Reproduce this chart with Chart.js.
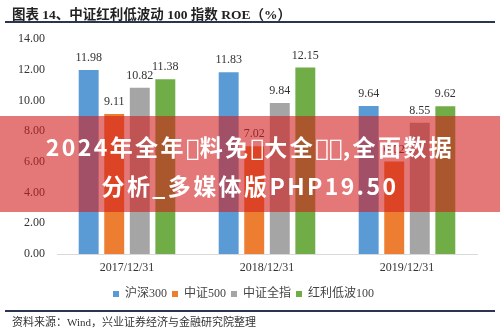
<!DOCTYPE html>
<html><head><meta charset="utf-8">
<script src="https://cdn.jsdelivr.net/npm/chart.js@4.4.1/dist/chart.umd.min.js"></script>
<style>
html,body{margin:0;padding:0;background:#fff;}
#wrap{position:relative;width:500px;height:330px;overflow:hidden;font-family:"Liberation Serif","Noto Sans CJK SC",serif;}
#c{position:absolute;left:0;top:0;}
#title{position:absolute;left:12px;top:3px;font-size:13.5px;font-weight:bold;color:#222;white-space:nowrap;}
#l1{position:absolute;left:5px;top:21px;width:490px;height:2px;background:#2b3450;}
#l2{position:absolute;left:5px;top:310px;width:490px;height:2px;background:#2b3450;}
#src{position:absolute;left:12px;top:313px;font-size:11px;color:#333;white-space:nowrap;}
#banner{position:absolute;left:0;top:116px;width:500px;height:96px;background:rgba(210,30,30,0.6);}
#btext{position:absolute;left:0;top:128px;width:500px;text-align:center;color:#fff;font-family:"Noto Sans CJK SC","Noto Sans",sans-serif;font-weight:bold;font-size:23px;letter-spacing:2.4px;line-height:37px;white-space:nowrap;}
.t{font-family:"DejaVu Sans";font-weight:normal;letter-spacing:0;}
</style></head>
<body><div id="wrap">
<canvas id="c" width="500" height="330"></canvas>
<div id="title">图表 14、中证红利低波动 100 指数 ROE（%）</div>
<div id="l1"></div>
<div id="banner"></div>
<div id="btext">2024年全年<span class="t">&#xE000;</span>料免<span class="t">&#xE000;</span>大全<span class="t">&#xE000;&#xE000;</span>,全面数据<br>分析_多媒体版PHP19.50</div>
<div id="l2"></div>
<div id="src">资料来源：Wind，兴业证券经济与金融研究院整理</div>
</div>
<script>
const categories = ["2017/12/31", "2018/12/31", "2019/12/31"];
const seriesNames = ["沪深300", "中证500", "中证全指", "红利低波100"];
const hs300 = [11.98, 11.83, 9.64];
const zz500 = [9.11, 7.02, 6.02];
const zzqz = [10.82, 9.84, 8.55];
const hlbd100 = [11.38, 12.15, 9.62];
const yTicks = [0, 2, 4, 6, 8, 10, 12, 14];
const colors = ["#5B9BD5", "#ED7D31", "#A5A5A5", "#70AD47"];

const serif = "'Liberation Serif','Noto Sans CJK SC',serif";
const valueLabels = {
  id: 'valueLabels',
  afterDatasetsDraw(chart) {
    const ctx = chart.ctx;
    ctx.save();
    ctx.font = "12px " + serif;
    ctx.fillStyle = "#333";
    ctx.textAlign = "center";
    ctx.textBaseline = "bottom";
    chart.data.datasets.forEach((ds, i) => {
      chart.getDatasetMeta(i).data.forEach((bar, j) => {
        ctx.fillText(ds.data[j].toFixed(2), bar.x, bar.y - 6);
      });
    });
    ctx.restore();
  }
};

new Chart(document.getElementById('c'), {
  type: 'bar',
  data: {
    labels: categories,
    datasets: [hs300, zz500, zzqz, hlbd100].map((d, i) => ({
      label: seriesNames[i], data: d, backgroundColor: colors[i],
      barPercentage: 0.78, categoryPercentage: 0.73
    }))
  },
  options: {
    responsive: false, animation: false,
    layout: { padding: { left: 10, right: 23, top: 39, bottom: 20 } },
    plugins: {
      tooltip: { enabled: false },
      legend: {
        position: 'bottom',
        labels: { boxWidth: 6, boxHeight: 6, padding: 5, color: '#444',
          font: { size: 12, family: serif } }
      }
    },
    scales: {
      x: {
        afterFit: (s) => { s.height = 29; },
        grid: { display: false, drawTicks: false },
        border: { color: '#d9d9d9', width: 1 },
        ticks: { color: '#333', padding: 7, font: { size: 12, family: serif } }
      },
      y: {
        min: 0, max: 14,
        afterBuildTicks: (s) => { s.ticks = yTicks.map(v => ({ value: v })); },
        afterFit: (s) => { s.width = 47; },
        grid: { display: false, drawTicks: false },
        border: { display: false },
        ticks: { color: '#333', padding: 12, font: { size: 12, family: serif },
          callback: (v) => Number(v).toFixed(2) }
      }
    }
  },
  plugins: [valueLabels]
});
</script>
</body></html>
